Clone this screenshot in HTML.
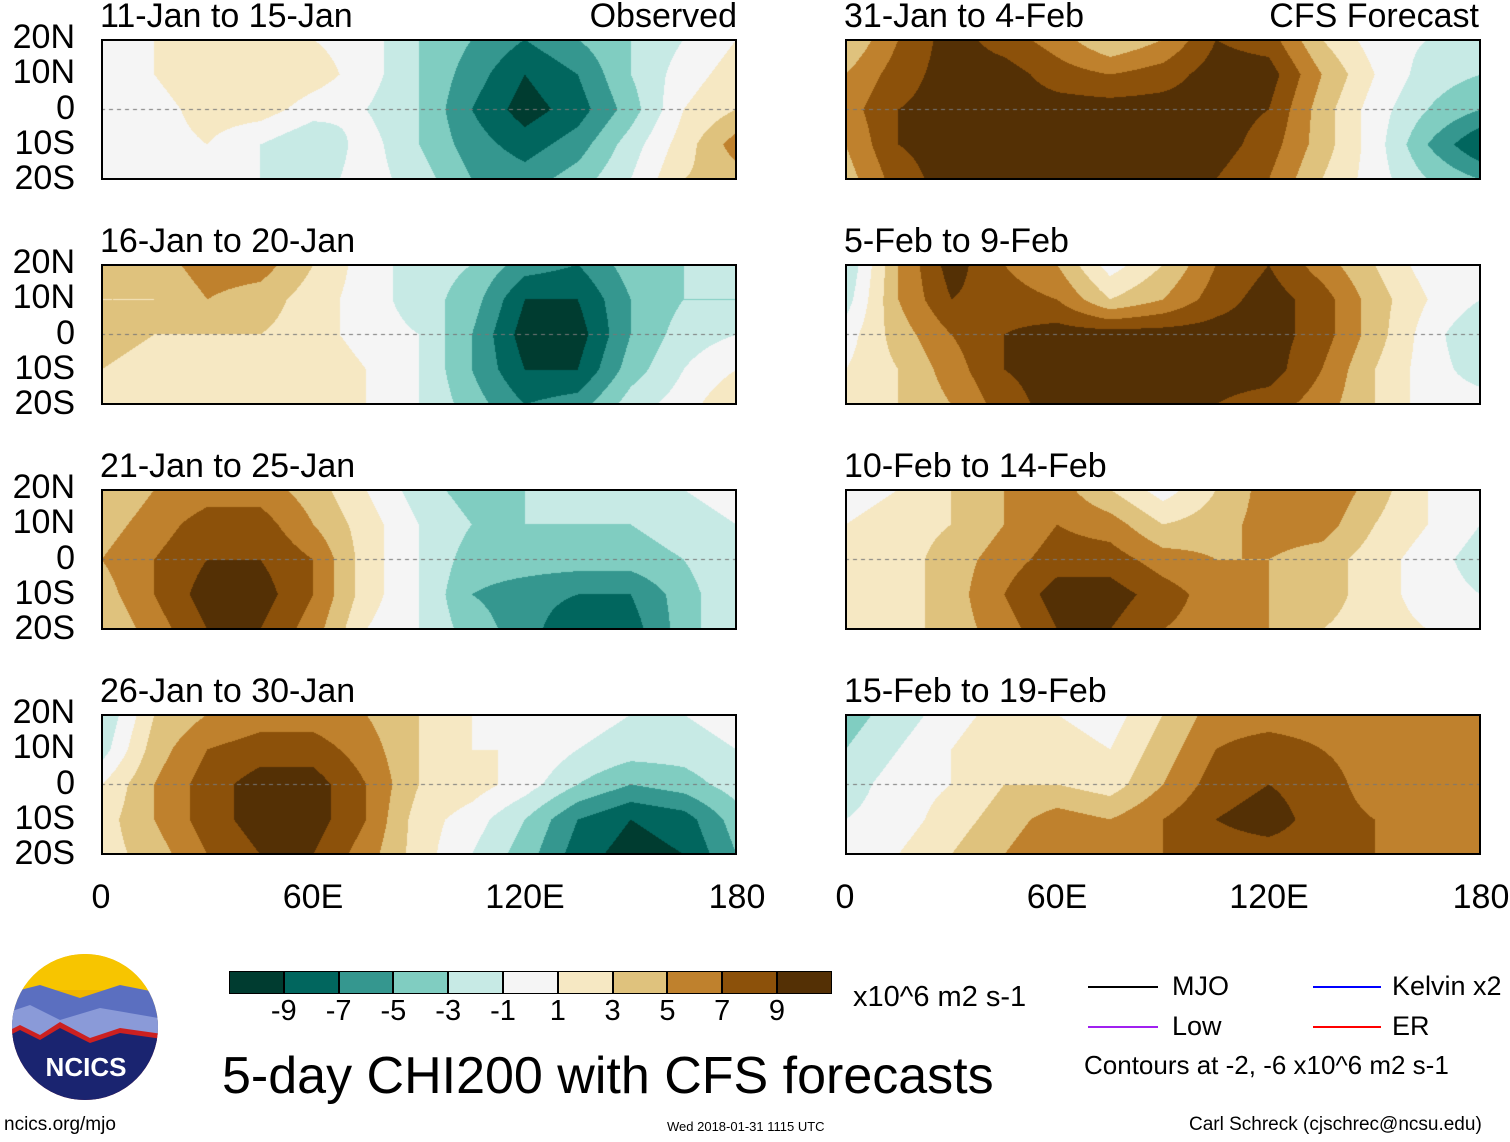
<!DOCTYPE html>
<html><head><meta charset="utf-8">
<style>
body{margin:0;background:#fff;width:1510px;height:1142px;position:relative;overflow:hidden;font-family:"Liberation Sans",sans-serif;}
.t{position:absolute;white-space:nowrap;color:#000;}
canvas{position:absolute;}
.frame{position:absolute;border:2px solid #000;box-sizing:border-box;}
</style></head><body>
<div id="root"></div>
<script>
const colors=["#003c30","#01665e","#35978f","#80cdc1","#c7eae5","#f5f5f5","#f6e8c3","#dfc27d","#bf812d","#8c510a","#543005"];
const levels=[-9,-7,-5,-3,-1,1,3,5,7,9];
const lonTicks=["0","60E","120E","180"];
const latTicks=["20N","10N","0","10S","20S"];
const titles=["11-Jan to 15-Jan","16-Jan to 20-Jan","21-Jan to 25-Jan","26-Jan to 30-Jan","31-Jan to 4-Feb","5-Feb to 9-Feb","10-Feb to 14-Feb","15-Feb to 19-Feb"];
const p1=[[0,1,2,2,1,0,-3,-5,-7,-5,-3,-1,1],[0,1,3,3,2,0,-3,-6,-9,-7,-3,0,2],[0,0,2,2,0,-1,-3,-7,-10,-8,-4,1,3],[0,0,1,-1,-3,0,-3,-6,-8,-6,-2,2,6],[0,0,0,-1,-2,0,-2,-5,-6,-4,-1,3,4]];
const p2=[[3,4,6,6,3,0,-2,-3,-6,-7,-4,-3,-2],[3,3,5,4,2,0,-2,-4,-9,-9,-5,-3,-3],[4,3,3,3,2,0,-1,-5,-10,-10,-5,-2,-1],[3,2,2,3,3,1,-1,-5,-9,-9,-4,-1,1],[2,2,1,2,2,1,-1,-4,-7,-6,-2,0,3]];
const p3=[[3,5,6,6,4,1,-2,-4,-3,-2,-2,-1,0],[4,6,8,8,5,2,-1,-3,-3,-3,-3,-2,-1],[5,7,9,9,7,2,-1,-4,-4,-4,-4,-3,-1],[4,7,10,10,7,2,-1,-5,-6,-7,-7,-4,-1],[3,6,9,9,6,1,-1,-4,-6,-9,-8,-4,-1]];
const p4=[[-3,3,5,6,6,5,3,1,1,0,-1,-1,0],[-2,4,7,8,8,6,3,1,1,-1,-2,-2,-1],[1,5,8,10,10,7,3,2,0,-3,-5,-4,-2],[2,5,8,10,10,7,2,0,-3,-7,-9,-8,-4],[2,4,7,9,9,6,2,-1,-4,-8,-10,-9,-5]];
const p5=[[3,7,10,8,6,3,5,9,8,3,0,-1,-2],[5,8,10,10,8,7,8,10,10,5,1,-2,-3],[6,9,10,10,10,10,10,10,9,4,0,-3,-5],[5,9,10,10,10,10,10,10,8,4,0,-5,-9],[4,8,10,10,10,10,10,9,7,3,0,-3,-5]];
const p6=[[-3,5,10,7,5,0,3,7,9,6,3,0,-1],[-2,5,9,8,7,3,5,8,10,8,4,1,-1],[0,4,7,9,10,10,10,10,10,8,4,0,-3],[1,3,6,9,10,10,10,10,10,7,3,0,-2],[1,3,5,8,10,10,10,9,8,6,3,0,0]];
const p7=[[0,1,3,5,6,3,0,3,6,7,4,1,0],[1,2,3,5,7,6,3,4,6,6,3,1,-1],[1,2,4,6,8,8,6,5,5,4,2,0,-2],[1,2,4,7,10,10,8,6,5,4,2,0,-1],[1,2,4,6,9,9,7,6,5,3,2,1,0]];
const p8=[[-4,-2,0,2,1,0,3,6,6,6,6,6,5],[-3,-1,1,3,2,1,4,7,8,7,6,6,5],[-2,0,1,3,3,2,5,8,9,8,6,6,6],[-1,0,2,4,6,5,7,9,10,8,7,6,6],[0,1,3,5,7,6,7,8,8,8,7,6,6]];
const panels=[p1,p2,p3,p4,p5,p6,p7,p8];

const root=document.getElementById('root');
function txt(s,x,y,size,extra){const d=document.createElement('div');d.className='t';d.textContent=s;d.style.left=x+'px';d.style.top=y+'px';d.style.fontSize=size+'px';if(extra)Object.assign(d.style,extra);root.appendChild(d);return d;}
function hex(c){return [parseInt(c.substr(1,2),16),parseInt(c.substr(3,2),16),parseInt(c.substr(5,2),16)];}
const rgb=colors.map(hex);
function bin(v){let i=0;while(i<levels.length&&v>levels[i])i++;return i;}
const W=636,H=141;
const lefts=[101,845],tops=[39,264,489,714];
panels.forEach((grid,k)=>{
  const px=lefts[k<4?0:1],py=tops[k%4];
  const cv=document.createElement('canvas');cv.width=W;cv.height=H;cv.style.left=px+'px';cv.style.top=py+'px';
  
  
  root.appendChild(cv);
  const ctx=cv.getContext('2d');const im=ctx.createImageData(W,H);
  const nc=grid[0].length,nr=grid.length;
  for(let y=0;y<H;y++){const fy=y/(H-1)*(nr-1);const r0=Math.min(nr-2,Math.floor(fy));const ty=fy-r0;
    for(let x=0;x<W;x++){const fx=x/(W-1)*(nc-1);const c0=Math.min(nc-2,Math.floor(fx));const tx=fx-c0;
      const v=(grid[r0][c0]*(1-tx)+grid[r0][c0+1]*tx)*(1-ty)+(grid[r0+1][c0]*(1-tx)+grid[r0+1][c0+1]*tx)*ty;
      const c=rgb[bin(v)];const o=(y*W+x)*4;im.data[o]=c[0];im.data[o+1]=c[1];im.data[o+2]=c[2];im.data[o+3]=255;}}
  ctx.putImageData(im,0,0);
  ctx.setLineDash([4,4]);ctx.strokeStyle='#777';ctx.lineWidth=1;ctx.beginPath();ctx.moveTo(0,H/2);ctx.lineTo(W,H/2);ctx.stroke();
  const f=document.createElement('div');f.className='frame';f.style.left=px+'px';f.style.top=py+'px';f.style.width=W+'px';f.style.height=H+'px';
  
  
  root.appendChild(f);
  const tt=txt(titles[k],px-1,py-42,34);
  
  
  if(k<4){latTicks.forEach((l,i)=>{const d=txt(l,0,py+i*H/4-21,34,{width:'75px',textAlign:'right'});
    
    });}
});
const o1=txt("Observed",437,-3,34,{width:'300px',textAlign:'right'});
const o2=txt("CFS Forecast",1179,-3,34,{width:'300px',textAlign:'right'});
lefts.forEach(px=>{lonTicks.forEach((l,i)=>{const d=txt(l,px+i*W/3-60,878,34,{width:'120px',textAlign:'center'});
  
  });});
colors.forEach((c,i)=>{const d=document.createElement('div');d.style.cssText='position:absolute;left:'+(229+i*54.8)+'px;top:971px;width:54.8px;height:23px;background:'+c+';box-sizing:border-box;border:1px solid #000;';
  
  
  root.appendChild(d);});
levels.forEach((l,i)=>{const d=txt(String(l),229+(i+1)*54.8-30,995,29,{width:'60px',textAlign:'center'});
  
  });
</script>
<div class="t" style="left:853px;top:981px;font-size:29px">x10^6 m2 s-1</div>
<div class="t" style="left:222px;top:1046px;font-size:52px">5-day CHI200 with CFS forecasts</div>
<svg style="position:absolute;left:0;top:0" width="1510" height="1142">
<line x1="1088" y1="987" x2="1158" y2="987" stroke="#000" stroke-width="2"/>
<line x1="1088" y1="1027" x2="1158" y2="1027" stroke="#a020f0" stroke-width="2"/>
<line x1="1313" y1="987" x2="1381" y2="987" stroke="#0000ff" stroke-width="2"/>
<line x1="1313" y1="1027" x2="1381" y2="1027" stroke="#ff0000" stroke-width="2"/>
<g>
<clipPath id="cl"><circle cx="85" cy="1027" r="73"/></clipPath>
<g clip-path="url(#cl)">
<rect x="0" y="950" width="170" height="160" fill="#f0b500"/>
<rect x="0" y="950" width="170" height="40" fill="#f7c500"/>
<path d="M0 995 L40 985 L80 998 L120 985 L170 995 L170 1110 L0 1110Z" fill="#5b6fc0"/>
<path d="M0 1015 L30 1005 L60 1020 L100 1008 L170 1020 L170 1110 L0 1110Z" fill="#8a9ad8"/>
<path d="M0 1035 L20 1025 L40 1035 L60 1022 L90 1038 L120 1028 L170 1035 L170 1110 L0 1110Z" fill="#cc2020"/>
<path d="M0 1040 L20 1030 L40 1040 L60 1028 L90 1043 L120 1033 L170 1040 L170 1110 L0 1110Z" fill="#1a2470"/>
</g>
<text x="86" y="1076" font-size="26" font-weight="bold" fill="#fff" text-anchor="middle" font-family="Liberation Sans, sans-serif">NCICS</text>
</g>
</svg>
<div class="t" style="left:1172px;top:971px;font-size:27px">MJO</div>
<div class="t" style="left:1172px;top:1011px;font-size:27px">Low</div>
<div class="t" style="left:1392px;top:971px;font-size:27px">Kelvin x2</div>
<div class="t" style="left:1392px;top:1011px;font-size:27px">ER</div>
<div class="t" style="left:1084px;top:1050px;font-size:26px">Contours at -2, -6 x10^6 m2 s-1</div>
<div class="t" style="left:4px;top:1114px;font-size:19px">ncics.org/mjo</div>
<div class="t" style="left:667px;top:1119px;font-size:13px">Wed 2018-01-31 1115 UTC</div>
<div class="t" style="left:1189px;top:1114px;font-size:19px">Carl Schreck (cjschrec@ncsu.edu)</div>
</body></html>
